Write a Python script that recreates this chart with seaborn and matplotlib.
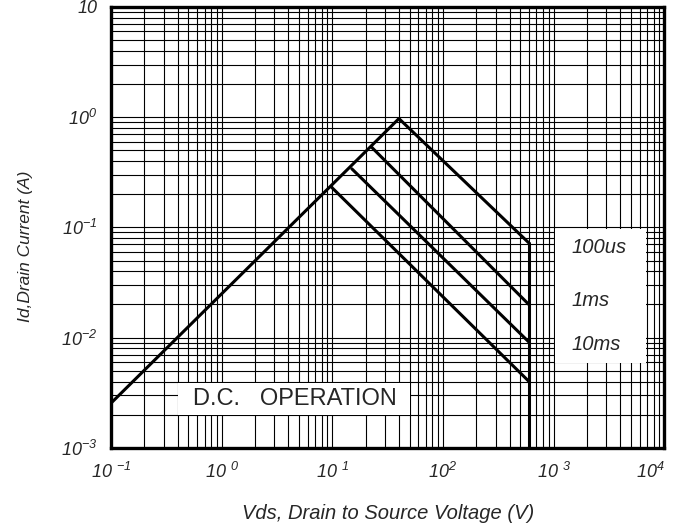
import matplotlib
matplotlib.use('Agg')
import matplotlib.pyplot as plt
import seaborn as sns
from matplotlib.patches import Rectangle
from matplotlib.ticker import LogLocator, NullFormatter, FixedLocator, FixedFormatter

# Safe operating area data
rise_v = [0.1, 40]
rise_i = [0.00255, 0.97]

pulse_names = ['100us', '1ms', '10ms', 'D.C.']
peak_v = [40, 22.8, 15.0, 9.9]
peak_i = [0.97, 0.53, 0.34, 0.23]
end_v = 600
end_i = [0.072, 0.0199, 0.0091, 0.0040]
i_floor = 0.001

x_ticks = [0.1, 1, 10, 100, 1000, 10000]
x_labels = [r'$10\ ^{-1}$', r'$10\ ^{0}$', r'$10\ ^{1}$', r'$10^{2}$', r'$10\ ^{3}$', r'$10^{4}$']
y_ticks = [0.001, 0.01, 0.1, 1, 10]
y_labels = [r'$10^{-3}$', r'$10^{-2}$', r'$10^{-1}$', r'$10^{0}$', '10']

sns.set_theme(style='white')
plt.rcParams['font.family'] = ['Liberation Sans', 'DejaVu Sans']
plt.rcParams['mathtext.fontset'] = 'custom'
plt.rcParams['mathtext.rm'] = 'Liberation Sans:italic'
plt.rcParams['mathtext.it'] = 'Liberation Sans:italic'
plt.rcParams['mathtext.default'] = 'regular'

fig = plt.figure(figsize=(6.73, 5.27), dpi=100)
ax = fig.add_axes([0.165, 0.15, 0.822, 0.837])

lw = 2.2
line_kw = dict(ax=ax, color='black', linewidth=lw, sort=False, estimator=None, zorder=3)
sns.lineplot(x=rise_v, y=rise_i, **line_kw)
for pv, pi, ei in zip(peak_v, peak_i, end_i):
    sns.lineplot(x=[pv, end_v], y=[pi, ei], **line_kw)
sns.lineplot(x=[end_v, end_v], y=[end_i[0], i_floor], **line_kw)

ax.set_xscale('log')
ax.set_yscale('log')
ax.set_xlim(0.1, 10000)
ax.set_ylim(0.001, 10)

ax.xaxis.set_major_locator(FixedLocator(x_ticks))
ax.xaxis.set_major_formatter(FixedFormatter(x_labels))
ax.yaxis.set_major_locator(FixedLocator(y_ticks))
ax.yaxis.set_major_formatter(FixedFormatter(y_labels))
ax.xaxis.set_minor_locator(LogLocator(base=10, subs=range(2, 10), numticks=50))
ax.yaxis.set_minor_locator(LogLocator(base=10, subs=range(2, 10), numticks=50))
ax.xaxis.set_minor_formatter(NullFormatter())
ax.yaxis.set_minor_formatter(NullFormatter())

ax.set_axisbelow(True)
ax.grid(True, which='both', color='black', linewidth=0.8)
ax.tick_params(which='both', length=0, labelsize=13, pad=10)
for lab in ax.get_xticklabels() + ax.get_yticklabels():
    lab.set_fontstyle('italic')
ax.get_xticklabels()[-1].set_horizontalalignment('right')

for s in ax.spines.values():
    s.set_color('black')
    s.set_linewidth(2.4)
    s.set_zorder(4)

# white label boxes
ax.add_patch(Rectangle((0.803, 0.193), 0.164, 0.304, transform=ax.transAxes,
                       facecolor='white', edgecolor='none', zorder=2))
ax.add_patch(Rectangle((0.121, 0.075), 0.42, 0.072, transform=ax.transAxes,
                       facecolor='white', edgecolor='none', zorder=2))

ax.text(0.833, 0.455, pulse_names[0], transform=ax.transAxes, fontsize=14.5, fontstyle='italic',
        va='center', ha='left', zorder=5)
ax.text(0.833, 0.335, pulse_names[1], transform=ax.transAxes, fontsize=14.5, fontstyle='italic',
        va='center', ha='left', zorder=5)
ax.text(0.833, 0.235, pulse_names[2], transform=ax.transAxes, fontsize=14.5, fontstyle='italic',
        va='center', ha='left', zorder=5)
ax.text(0.333, 0.111, 'D.C.   OPERATION', transform=ax.transAxes, fontsize=17,
        va='center', ha='center', zorder=5)

ax.set_xlabel('Vds, Drain to Source Voltage (V)', fontsize=14.5, fontstyle='italic')
ax.set_ylabel('Id,Drain Current (A)', fontsize=12.5, fontstyle='italic')
ax.xaxis.set_label_coords(0.5, -0.128)
ax.yaxis.set_label_coords(-0.141, 0.458)

fig.savefig('out.png', dpi=100)
